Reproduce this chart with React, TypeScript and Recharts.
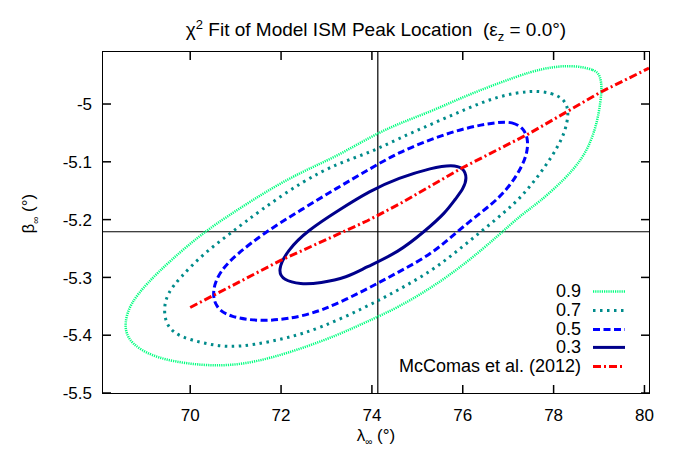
import React from "react";
import type { JSX } from "react";
import { ComposedChart, Line, ReferenceLine, XAxis, YAxis } from "recharts";

// λ∞ / β∞ pairs
const lambdaTicks = [70, 72, 74, 76, 78, 80];
const betaTicks = [-5.5, -5.4, -5.3, -5.2, -5.1, -5];
const lambdaDomain: [number, number] = [68.08, 80.1];
const betaDomain: [number, number] = [-5.5, -4.91];

const bestLambda = 74.13;
const bestBeta = -5.221;

const contour90: [number, number][] = [
  [78.41, -4.933], [78.92, -4.94], [79.03, -4.952], [79.07, -4.974], [78.99, -5.021],
  [78.85, -5.06], [78.63, -5.095], [78.26, -5.129], [77.67, -5.171], [77.31, -5.19],
  [76.78, -5.228], [76.06, -5.276], [75.33, -5.317], [74.58, -5.352], [73.85, -5.378],
  [73.24, -5.4], [72.49, -5.422], [71.76, -5.44], [71.04, -5.452], [70.29, -5.453],
  [69.41, -5.443], [68.9, -5.426], [68.61, -5.405], [68.55, -5.379], [68.68, -5.345],
  [69.05, -5.31], [69.56, -5.271], [70.29, -5.222], [71.04, -5.183], [71.76, -5.147],
  [72.49, -5.116], [73.24, -5.09], [73.96, -5.057], [74.58, -5.034], [75.33, -5.012],
  [76.06, -4.986], [76.78, -4.964], [77.53, -4.943], [77.97, -4.936],
];

const contour70: [number, number][] = [
  [77.53, -4.976], [77.97, -4.981], [78.22, -4.991], [78.33, -5.009], [78.3, -5.033],
  [78.19, -5.06], [77.97, -5.09], [77.67, -5.124], [77.31, -5.159], [76.94, -5.186],
  [76.43, -5.219], [75.9, -5.253], [75.33, -5.288], [74.58, -5.322], [73.85, -5.352],
  [72.86, -5.388], [72.14, -5.405], [71.39, -5.417], [70.81, -5.421], [70.29, -5.414],
  [69.78, -5.403], [69.49, -5.386], [69.41, -5.357], [69.49, -5.328], [69.78, -5.3],
  [70.29, -5.259], [70.88, -5.224], [71.54, -5.184], [72.49, -5.133], [73.24, -5.103],
  [73.96, -5.084], [74.58, -5.06], [75.33, -5.034], [76.06, -5.009], [76.78, -4.986],
];

const contour50: [number, number][] = [
  [76.78, -5.031], [77.09, -5.031], [77.33, -5.041], [77.44, -5.06], [77.42, -5.084],
  [77.31, -5.107], [77.09, -5.136], [76.78, -5.164], [76.43, -5.186], [75.9, -5.219],
  [75.33, -5.259], [74.58, -5.291], [73.85, -5.322], [72.86, -5.36], [72.14, -5.372],
  [71.54, -5.376], [70.88, -5.369], [70.55, -5.352], [70.48, -5.322], [70.66, -5.288],
  [71.04, -5.259], [71.61, -5.224], [72.42, -5.184], [73.24, -5.145], [73.96, -5.112],
  [74.58, -5.084], [75.33, -5.06], [76.06, -5.041],
];

const contour30: [number, number][] = [
  [75.77, -5.105], [76.01, -5.11], [76.1, -5.128], [76.01, -5.147], [75.84, -5.164],
  [75.62, -5.188], [75.18, -5.219], [74.58, -5.257], [73.85, -5.283], [73.46, -5.3],
  [72.86, -5.31], [72.42, -5.312], [72.05, -5.305], [71.92, -5.288], [72.14, -5.253],
  [72.58, -5.219], [73.26, -5.184], [73.96, -5.15], [74.58, -5.128], [75.33, -5.11],
];

const mcComas: [number, number][] = [
  [70.0, -5.352], [71.98, -5.271], [73.9, -5.202], [74.63, -5.172], [75.95, -5.112],
  [77.44, -5.052], [79.07, -4.978], [80.1, -4.938],
];

interface Row {
  readonly lambda: number;
  readonly beta: number;
}

interface Series {
  readonly key: string;
  readonly label: string;
  readonly rows: Row[];
  readonly color: string;
  readonly width: number;
  readonly dash?: string;
  readonly curve: "basisClosed" | "linear";
}

function toRows(pts: [number, number][]): Row[] {
  return pts.map(([lambda, beta]) => ({ lambda, beta }));
}

const series: Series[] = [
  { key: "c90", label: "0.9", rows: toRows(contour90), color: "#00ff7f", width: 2.5, dash: "1.2 1", curve: "basisClosed" },
  { key: "c70", label: "0.7", rows: toRows(contour70), color: "#008b8b", width: 3, dash: "2.5 4.5", curve: "basisClosed" },
  { key: "c50", label: "0.5", rows: toRows(contour50), color: "#0000ff", width: 3, dash: "7 3.5", curve: "basisClosed" },
  { key: "c30", label: "0.3", rows: toRows(contour30), color: "#00008b", width: 3, curve: "basisClosed" },
  { key: "mc", label: "McComas et al. (2012)", rows: toRows(mcComas), color: "#ff0000", width: 3, dash: "8 3 2 3", curve: "linear" },
];

const FONT = "'Liberation Sans', Arial, Helvetica, sans-serif";
const PLOT_LEFT = 103;
const PLOT_TOP = 52;
const PLOT_RIGHT = 649;
const PLOT_BOTTOM = 393;
const TICK_LEN = 8;

// bottom labels plus inward ticks on the bottom and the mirrored top edge
function BottomTick(props: any): JSX.Element {
  const { x, y, payload } = props;
  return (
    <g>
      <rect x={x - 0.75} y={PLOT_BOTTOM - TICK_LEN} width={1.5} height={TICK_LEN} fill="#000" />
      <rect x={x - 0.75} y={PLOT_TOP} width={1.5} height={TICK_LEN} fill="#000" />
      <text x={x} y={y} dy="0.71em" textAnchor="middle" fontSize={17} fontFamily={FONT} fill="#000">
        {payload.value}
      </text>
    </g>
  );
}

function LeftTick(props: any): JSX.Element {
  const { x, y, payload } = props;
  return (
    <g>
      <rect x={PLOT_LEFT} y={y - 0.75} width={TICK_LEN} height={1.5} fill="#000" />
      <rect x={PLOT_RIGHT - TICK_LEN} y={y - 0.75} width={TICK_LEN} height={1.5} fill="#000" />
      <text x={x} y={y} dy="0.36em" textAnchor="end" fontSize={17} fontFamily={FONT} fill="#000">
        {payload.value}
      </text>
    </g>
  );
}

function LegendBox(): JSX.Element {
  return (
    <div
      style={{
        position: "absolute",
        left: 295,
        top: 282,
        width: 330,
        fontFamily: FONT,
        fontSize: 18,
        lineHeight: "18.8px",
      }}
    >
      {series.map((s) => (
        <div key={s.key} style={{ display: "flex", alignItems: "center", justifyContent: "flex-end" }}>
          <span>{s.label}</span>
          <svg width={44} height={18.8} style={{ display: "block" }}>
            <line
              x1={12}
              x2={44}
              y1={9.4}
              y2={9.4}
              stroke={s.color}
              strokeWidth={s.width}
              strokeDasharray={s.dash}
            />
          </svg>
        </div>
      ))}
    </div>
  );
}

export default function App(): JSX.Element {
  return (
    <div style={{ position: "absolute", left: 0, top: 0, width: 675, height: 450, background: "#fff", fontFamily: FONT }}>
      <ComposedChart
        width={675}
        height={450}
        margin={{ top: PLOT_TOP, right: 675 - PLOT_RIGHT, bottom: 0, left: 0 }}
      >
        <XAxis
          dataKey="lambda"
          type="number"
          domain={lambdaDomain}
          ticks={lambdaTicks}
          allowDataOverflow
          height={450 - PLOT_BOTTOM}
          tickSize={0}
          tickLine={false}
          tickMargin={16}
          tick={<BottomTick />}
          axisLine={false}
        />
        <YAxis
          dataKey="beta"
          type="number"
          domain={betaDomain}
          ticks={betaTicks}
          allowDataOverflow
          width={PLOT_LEFT}
          tickSize={0}
          tickLine={false}
          tickMargin={11}
          tick={<LeftTick />}
          axisLine={false}
        />
        <ReferenceLine x={bestLambda} stroke="#000" strokeWidth={1.2} />
        <ReferenceLine y={bestBeta} stroke="#000" strokeWidth={1.2} />
        {series.map((s) => (
          <Line
            key={s.key}
            data={s.rows}
            dataKey="beta"
            type={s.curve}
            stroke={s.color}
            strokeWidth={s.width}
            strokeDasharray={s.dash}
            dot={false}
            activeDot={false}
            isAnimationActive={false}
          />
        ))}
      </ComposedChart>

      {/* plot frame */}
      <div
        style={{
          position: "absolute",
          left: PLOT_LEFT - 0.75,
          top: PLOT_TOP - 0.75,
          width: PLOT_RIGHT - PLOT_LEFT + 1.5,
          height: PLOT_BOTTOM - PLOT_TOP + 1.5,
          border: "1.5px solid #000",
          boxSizing: "border-box",
          pointerEvents: "none",
        }}
      />

      <div
        style={{
          position: "absolute",
          left: 76,
          top: 17,
          width: 600,
          textAlign: "center",
          fontSize: 19,
          whiteSpace: "pre",
        }}
      >
        χ<sup style={{ fontSize: 13 }}>2</sup> Fit of Model ISM Peak Location  (ε<sub style={{ fontSize: 13 }}>z</sub> = 0.0°)
      </div>

      <div
        style={{
          position: "absolute",
          left: 276,
          top: 426,
          width: 200,
          textAlign: "center",
          fontSize: 17,
        }}
      >
        λ<sub style={{ fontSize: 10 }}>∞</sub> (°)
      </div>

      <div
        style={{
          position: "absolute",
          left: -70,
          top: 203,
          width: 200,
          textAlign: "center",
          fontSize: 17,
          transform: "rotate(-90deg)",
        }}
      >
        β<sub style={{ fontSize: 10 }}>∞</sub> (°)
      </div>

      <LegendBox />
    </div>
  );
}
